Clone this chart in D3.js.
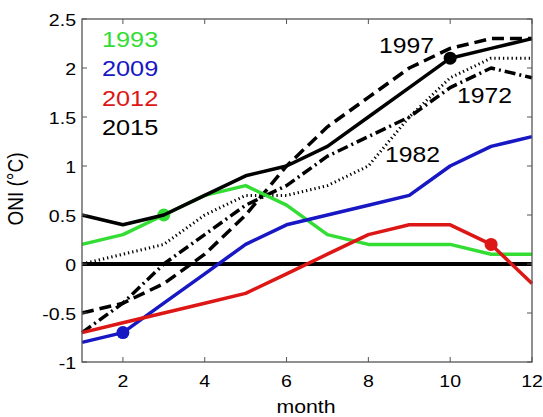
<!DOCTYPE html>
<html><head><meta charset="utf-8">
<script src="https://cdn.jsdelivr.net/npm/d3@7"></script>
<style>body{margin:0;background:#fff}svg{display:block}text{font-family:"Liberation Sans",Arial,sans-serif}</style>
</head><body>
<script>
const months = [1,2,3,4,5,6,7,8,9,10,11,12];
const y1993 = [0.2,0.3,0.5,0.7,0.8,0.6,0.3,0.2,0.2,0.2,0.1,0.1];
const y2009 = [-0.8,-0.7,-0.4,-0.1,0.2,0.4,0.5,0.6,0.7,1.0,1.2,1.3];
const y2012 = [-0.7,-0.6,-0.5,-0.4,-0.3,-0.1,0.1,0.3,0.4,0.4,0.2,-0.2];
const y2015 = [0.5,0.4,0.5,0.7,0.9,1.0,1.2,1.5,1.8,2.1,2.2,2.3];
const y1997 = [-0.5,-0.4,-0.2,0.1,0.5,1.0,1.4,1.7,2.0,2.2,2.3,2.3];
const y1972 = [-0.7,-0.4,0.0,0.3,0.6,0.8,1.1,1.3,1.5,1.8,2.0,1.9];
const y1982 = [0.0,0.1,0.2,0.5,0.7,0.7,0.8,1.0,1.5,1.9,2.1,2.1];
const xTicks = [2,4,6,8,10,12];
const yTicks = [-1,-0.5,0,0.5,1,1.5,2,2.5];
const markerMonths = {"1993":3,"2009":2,"2012":11,"2015":10};

const W=543,H=417;
const L=82,R=532,T=19,B=362;
const SX=1.15; // horizontal stretch of text glyphs
const svg=d3.select("body").append("svg").attr("width",W).attr("height",H);
const x=d3.scaleLinear().domain([1,12]).range([L,R]);
const y=d3.scaleLinear().domain([-1,2.5]).range([B,T]);
const line=d3.line().x((d,i)=>x(months[i])).y(d=>y(d));

function txt(px,py,s,size,anchor,fill){
  return svg.append("text").attr("transform",`translate(${px},${py}) scale(${SX},1)`)
    .attr("text-anchor",anchor||"start").attr("font-size",size).attr("fill",fill||"#000").text(s);
}

// zero line
svg.append("line").attr("x1",x(1)).attr("x2",x(12)).attr("y1",y(0)).attr("y2",y(0))
  .attr("stroke","#000").attr("stroke-width",4);

const series=[
  {name:"1982",v:y1982,c:"#000",w:3,dash:"1.3,3"},
  {name:"1972",v:y1972,c:"#000",w:3.5,dash:"11,4,2,4"},
  {name:"1997",v:y1997,c:"#000",w:3.5,dash:"12,6"},
  {name:"1993",v:y1993,c:"#33dd33",w:3.5,dash:null},
  {name:"2009",v:y2009,c:"#1717c4",w:3.5,dash:null},
  {name:"2012",v:y2012,c:"#dd1616",w:3.5,dash:null},
  {name:"2015",v:y2015,c:"#000",w:3.5,dash:null}
];
series.forEach(s=>{
  const p=svg.append("path").attr("d",line(s.v)).attr("fill","none")
    .attr("stroke",s.c).attr("stroke-width",s.w).attr("stroke-linejoin","round");
  if(s.dash) p.attr("stroke-dasharray",s.dash);
  if(markerMonths[s.name]){
    const m=markerMonths[s.name];
    svg.append("circle").attr("cx",x(m)).attr("cy",y(s.v[m-1])).attr("r",6.5).attr("fill",s.c);
  }
});

// axes box
const g=svg.append("g");
g.append("rect").attr("x",L).attr("y",T).attr("width",R-L).attr("height",B-T)
  .attr("fill","none").attr("stroke","#555").attr("stroke-width",1.3);
const tl=5;
xTicks.forEach(t=>{
  g.append("line").attr("x1",x(t)).attr("x2",x(t)).attr("y1",B).attr("y2",B-tl).attr("stroke","#555");
  g.append("line").attr("x1",x(t)).attr("x2",x(t)).attr("y1",T).attr("y2",T+tl).attr("stroke","#555");
  txt(x(t),B+25,t,17,"middle");
});
yTicks.forEach(t=>{
  g.append("line").attr("x1",L).attr("x2",L+tl).attr("y1",y(t)).attr("y2",y(t)).attr("stroke","#555");
  g.append("line").attr("x1",R).attr("x2",R-tl).attr("y1",y(t)).attr("y2",y(t)).attr("stroke","#555");
  txt(L-6,y(t)+6.5,t,17,"end");
});
txt(306,413,"month",18.5,"middle");
svg.append("text").attr("transform","translate(23,189) rotate(-90) scale(1,"+SX+")")
  .attr("text-anchor","middle").attr("font-size",19).text("ONI (°C)");

// legend text
const leg=[["1993","#33dd33"],["2009","#1717c4"],["2012","#dd1616"],["2015","#000"]];
leg.forEach((d,i)=>{ txt(102,47+i*29.3,d[0],22,"start",d[1]); });
// annotations
txt(379,53,"1997",21.5);
txt(457,103,"1972",21.5);
txt(385,162,"1982",21.5);
</script>
</body></html>
